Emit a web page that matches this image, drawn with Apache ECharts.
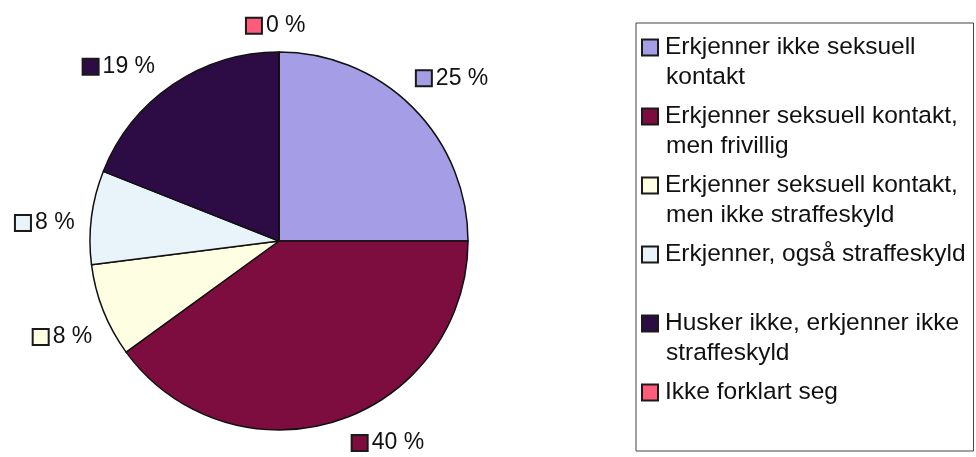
<!DOCTYPE html>
<html>
<head>
<meta charset="utf-8">
<script src="https://cdn.jsdelivr.net/npm/echarts@6/dist/echarts.min.js"></script>
<style>
  html, body { margin: 0; padding: 0; background: #fff; }
  #main { width: 976px; height: 457px; }
</style>
</head>
<body>
<div id="main"></div>
<script>
// kategorier og verdier (prosent)
const categories = [
  "Erkjenner ikke seksuell kontakt",
  "Erkjenner seksuell kontakt, men frivillig",
  "Erkjenner seksuell kontakt, men ikke straffeskyld",
  "Erkjenner, også straffeskyld",
  "Husker ikke, erkjenner ikke straffeskyld",
  "Ikke forklart seg"
];
const values = [25, 40, 8, 8, 19, 0];
// slik teksten brytes i forklaringen
const legendLines = [
  ["Erkjenner ikke seksuell", "kontakt"],
  ["Erkjenner seksuell kontakt,", "men frivillig"],
  ["Erkjenner seksuell kontakt,", "men ikke straffeskyld"],
  ["Erkjenner, også straffeskyld", ""],
  ["Husker ikke, erkjenner ikke", "straffeskyld"],
  ["Ikke forklart seg"]
];
const colors = ["#a59ee6", "#7c0d3e", "#fefee2", "#e8f3fa", "#2d0c45", "#ff5c7c"];

const total = values.reduce((a, b) => a + b, 0);
const cx = 279, cy = 241;

// små firkanter i etikettene
const markerRich = {};
colors.forEach((c, i) => {
  markerRich["m" + i] = {
    width: 14, height: 14, backgroundColor: c,
    borderColor: "#1a1a1a", borderWidth: 2
  };
});

let myChart = echarts.init(document.getElementById("main"));
let option = {
  backgroundColor: "#fff",
  color: colors,
  legend: {
    orient: "vertical",
    left: 636,
    top: 23,
    padding: [12, 8, 46, 1],
    borderColor: "#444",
    borderWidth: 1,
    itemWidth: 0,
    itemHeight: 0,
    itemGap: 14,
    icon: "rect",
    selectedMode: false,
    data: categories,
    formatter: function (name) {
      const i = categories.indexOf(name);
      const lines = legendLines[i];
      let s = "{m" + i + "|}{g|}{t|" + lines[0] + "}";
      for (let k = 1; k < lines.length; k++) {
        s += "\n{s|}{t|" + lines[k] + "}";
      }
      return s;
    },
    textStyle: {
      rich: Object.assign({}, markerRich, {
        g: { width: 8, lineHeight: 30 },
        s: { width: 23, lineHeight: 30 },
        t: { fontFamily: "Liberation Sans", fontSize: 24.5, lineHeight: 30, color: "#111" }
      })
    }
  },
  series: [
    {
      type: "pie",
      center: [cx, cy],
      radius: 189,
      startAngle: 90,
      clockwise: true,
      avoidLabelOverlap: false,
      animation: false,
      itemStyle: { borderColor: "#111", borderWidth: 1.5 },
      emphasis: { disabled: true },
      labelLine: { show: false },
      label: {
        show: true,
        position: "outside",
        formatter: function (p) {
          return "{m" + p.dataIndex + "|}{g|}{v|" + p.value + " %}";
        },
        rich: Object.assign({}, markerRich, {
          g: { width: 5 },
          v: { fontFamily: "Liberation Sans", fontSize: 23, color: "#111" }
        })
      },
      // etiketten legges utenfor midten av hver sektor
      labelLayout: function (p) {
        const i = p.dataIndex;
        let before = 0;
        for (let k = 0; k < i; k++) before += values[k];
        const mid = (before + values[i] / 2) / total * Math.PI * 2 - 0.05;
        const dx = Math.sin(mid), dy = -Math.cos(mid);
        const r = 204;
        const clamp = v => Math.max(-1, Math.min(1, v));
        const w = p.labelRect.width, h = p.labelRect.height;
        return {
          x: cx + r * dx + clamp(dx * 3) * w / 2 + (Math.abs(dx) < 0.2 ? 12 : 0),
          y: cy + r * dy + clamp(dy * 3) * h / 2,
          align: "center",
          verticalAlign: "middle"
        };
      },
      data: categories.map((n, i) => ({ name: n, value: values[i] }))
    }
  ]
};
option && myChart.setOption(option);
</script>
</body>
</html>
